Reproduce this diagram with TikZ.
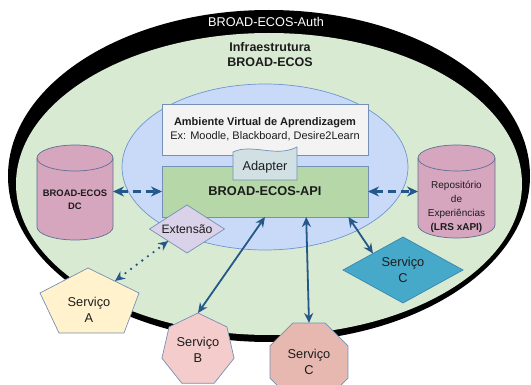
\documentclass[tikz,border=0pt]{standalone}
\usepackage{fontspec}
\setmainfont{Liberation Sans}
\usetikzlibrary{shapes.geometric,arrows.meta,calc}

\definecolor{infragreen}{HTML}{D9EAD3}
\definecolor{avablue}{HTML}{C9DAF8}
\definecolor{avaedge}{HTML}{6F96CF}
\definecolor{boxedge}{HTML}{7590B5}
\definecolor{lmsgray}{HTML}{F3F3F3}
\definecolor{apigreen}{HTML}{B6D7A8}
\definecolor{adaptblue}{HTML}{D0E0E3}
\definecolor{dbpink}{HTML}{D5A6BD}
\definecolor{dbedge}{HTML}{5E7193}
\definecolor{extlilac}{HTML}{D9D2E9}
\definecolor{svcyellow}{HTML}{FFF2CC}
\definecolor{svcpink}{HTML}{F4CCCC}
\definecolor{svcsalmon}{HTML}{E6B8AF}
\definecolor{svcteal}{HTML}{46A9C9}
\definecolor{tealedge}{HTML}{3C86AE}
\definecolor{linkblue}{HTML}{245889}
\definecolor{ink}{HTML}{1C1C1C}

\begin{document}
\begin{tikzpicture}[x=1pt,y=-1pt,
  every node/.style={text=ink, inner sep=0pt, outer sep=0pt},
  panel/.style={draw=boxedge, line width=0.7pt},
  dbshape/.style={fill=dbpink, draw=dbedge, line width=0.7pt},
  link/.style={draw=linkblue, line width=1.8pt,
    {Stealth[length=10pt,width=9pt]}-{Stealth[length=10pt,width=9pt]}},
  dashlink/.style={draw=linkblue, line width=2.6pt, dash pattern=on 8pt off 5pt,
    {Stealth[length=11pt,width=10pt]}-{Stealth[length=11pt,width=10pt]}},
  dotlink/.style={link, line width=2.6pt, line cap=round, dash pattern=on 0pt off 7pt},
  svclabel/.style={align=center, font=\fontsize{12.8}{15.5}\selectfont},
]
\useasboundingbox (0,0) rectangle (531,385);

% authentication ring around the infrastructure area
\fill[black] (269,176) ellipse [x radius=261pt, y radius=166pt];
\fill[infragreen] (269,184) ellipse [x radius=253pt, y radius=151pt];
\node[text=white, font=\fontsize{12.7}{15}\selectfont] (auth) at (266,22) {BROAD-ECOS-Auth};
\node[align=center, font=\bfseries\fontsize{12.5}{15}\selectfont] (infra) at (270,54.5)
  {Infraestrutura\\BROAD-ECOS};

% virtual learning environment
\node[ellipse, fill=avablue, draw=avaedge, line width=0.7pt,
  minimum width=286pt, minimum height=166pt] (ava) at (265,167) {};
\node[panel, fill=lmsgray, minimum width=206pt, minimum height=51pt, align=center,
  font=\fontsize{11}{14}\selectfont] (lms) at (265,129.5)
  {\textbf{Ambiente Virtual de Aprendizagem}\\Ex: Moodle, Blackboard, Desire2Learn};
\node[panel, fill=apigreen, minimum width=206pt, minimum height=51pt,
  font=\bfseries\fontsize{12.8}{15}\selectfont] (api) at (265,191.5) {BROAD-ECOS-API};

% adapter tab with a wavy top edge
\path[panel, fill=adaptblue] (233,180) -- (233,152)
  .. controls (252,143) and (276,158) .. (297,147) -- (297,180) -- cycle;
\node[font=\fontsize{12.8}{15}\selectfont] (adapter) at (265,167) {Adapter};

% data stores
\path[dbshape] (37,158) -- (37,227)
  arc[start angle=180, end angle=360, x radius=38pt, y radius=13pt]
  -- (113,158) arc[start angle=0, end angle=180, x radius=38pt, y radius=13pt] -- cycle;
\draw[dbedge, line width=0.7pt] (37,158)
  arc[start angle=180, end angle=360, x radius=38pt, y radius=13pt];
\node[minimum width=76pt, minimum height=93pt] (dc) at (75,191.5) {};
\node[align=center, font=\bfseries\fontsize{9.4}{13}\selectfont] (dclabel) at (75,199.5)
  {BROAD-ECOS\\DC};

\path[dbshape] (418,158) -- (418,225)
  arc[start angle=180, end angle=360, x radius=38.5pt, y radius=13pt]
  -- (495,158) arc[start angle=0, end angle=180, x radius=38.5pt, y radius=13pt] -- cycle;
\draw[dbedge, line width=0.7pt] (418,158)
  arc[start angle=180, end angle=360, x radius=38.5pt, y radius=13pt];
\node[minimum width=77pt, minimum height=93pt] (lrs) at (456.5,191.5) {};
\node[align=center, font=\fontsize{10}{14}\selectfont] (lrslabel) at (456.5,207)
  {Repositório\\de\\Experiências\\\textbf{(LRS xAPI)}};

% extension point
\node[diamond, panel, fill=extlilac, minimum width=75pt, minimum height=48pt,
  label={[font=\fontsize{12.2}{15}\selectfont]center:Extensão}] (ext) at (187,229) {};

% services
\path[panel, fill=svcyellow] (88,268) -- (139,293) -- (124,333) -- (59,333) -- (40,293) -- cycle;
\node[svclabel] (svcA) at (89,310) {Serviço\\A};
\coordinate (svcAtip) at (115,281);

\node[regular polygon, regular polygon sides=7, minimum size=74pt, panel, fill=svcpink,
  svclabel] (svcB) at (198,350) {Serviço\\B};
\node[regular polygon, regular polygon sides=8, minimum size=84.4pt, panel, fill=svcsalmon,
  svclabel] (svcCoct) at (309,362) {Serviço\\C};
\node[diamond, draw=tealedge, line width=0.7pt, fill=svcteal, minimum width=120pt,
  minimum height=66pt, label={[svclabel]center:Serviço\\C}] (svcCdia) at (403,270) {};

% connectors
\coordinate (apiC) at ($(api.south)!0.4!(api.south east)$);
\coordinate (apiD) at ($(api.south)!0.81!(api.south east)$);
\draw[dashlink] (dc.east) -- (api.west);
\draw[dashlink] (api.east) -- (lrs.west);
\draw[dotlink] (svcAtip) -- (ext.south west);
\draw[link] (svcB.north) -- (api.south);
\draw[link] (svcCoct.north) -- (apiC);
\draw[link] (apiD) -- (svcCdia.north west);
\end{tikzpicture}
\end{document}
